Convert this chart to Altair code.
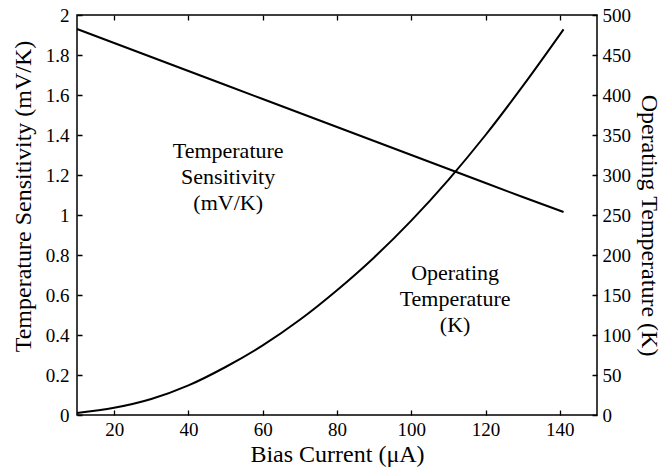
import altair as alt
import pandas as pd

# Data
bias = [10, 20, 30, 40, 50, 60, 70, 80, 90, 100, 110, 120, 130, 141]
sensitivity = [1.93, 1.86, 1.79, 1.72, 1.65, 1.58, 1.51, 1.44, 1.37, 1.30, 1.23, 1.16, 1.09, 1.015]
temperature = [2.5, 9, 20, 37, 60, 87, 119, 156, 197, 243, 294, 350, 411, 482]

x_ticks = [20, 40, 60, 80, 100, 120, 140]
left_ticks = [0, 0.2, 0.4, 0.6, 0.8, 1, 1.2, 1.4, 1.6, 1.8, 2]
right_ticks = [0, 50, 100, 150, 200, 250, 300, 350, 400, 450, 500]

ann_x = [50.7, 111.8]
ann_y = [1.32, 0.71]
ann_text = ["Temperature\nSensitivity\n(mV/K)", "Operating\nTemperature\n(K)"]

W, H = 520, 400
FONT = "Liberation Serif"
LBL = 19
TTL = 24

df = pd.DataFrame({"bias": bias, "sens": sensitivity, "temp": temperature})
ann = pd.DataFrame({"x": ann_x, "y": ann_y, "t": ann_text})

common = dict(
    labelFont=FONT, titleFont=FONT, labelFontSize=LBL, titleFontSize=TTL,
    labelColor="black", titleColor="black", titleFontWeight="normal",
    ticks=False, domain=False,
)

x_enc = alt.X(
    "bias:Q",
    scale=alt.Scale(domain=[10, 150], nice=False, zero=False),
    axis=alt.Axis(
        values=x_ticks, title="Bias Current (μA)", format="d",
        grid=True, gridColor="black", gridWidth=1.3, gridOpacity=1,
        gridDash=[5, H - 10, 5, 0],
        labelPadding=5, titlePadding=3, **common,
    ),
)

left_axis = alt.Axis(
    values=left_ticks, title="Temperature Sensitivity (mV/K)",
    grid=True, gridColor="black", gridWidth=1.3, gridOpacity=1,
    gridDash=[5, W - 10, 5, 0],
    labelPadding=8, titlePadding=10, titleY=181,
    labelExpr="format(datum.value, '.1~f')", **common,
)
left_scale = alt.Scale(domain=[0, 2], nice=False)

sens_line = alt.Chart(df).mark_line(color="black", strokeWidth=2).encode(
    x=x_enc,
    y=alt.Y("sens:Q", scale=left_scale, axis=left_axis),
)

texts = alt.Chart(ann).mark_text(
    font=FONT, fontSize=22, lineBreak="\n", lineHeight=26,
    align="center", baseline="middle", color="black",
).encode(
    x=alt.X("x:Q", scale=alt.Scale(domain=[10, 150], nice=False, zero=False)),
    y=alt.Y("y:Q", scale=left_scale, axis=left_axis),
    text="t:N",
)

temp_line = alt.Chart(df).mark_line(
    color="black", strokeWidth=2, interpolate="monotone"
).encode(
    x=x_enc,
    y=alt.Y(
        "temp:Q",
        scale=alt.Scale(domain=[0, 500], nice=False),
        axis=alt.Axis(
            values=right_ticks, orient="right", title="Operating Temperature (K)",
            grid=False, labelPadding=5, titlePadding=6, titleY=210, **common,
        ),
    ),
)

chart = alt.layer(alt.layer(sens_line, texts), temp_line).resolve_scale(
    y="independent"
).properties(
    width=W, height=H,
    background="white",
    autosize=alt.AutoSizeParams(type="none"),
    padding={"left": 77, "top": 15, "right": 70, "bottom": 58},
).configure_view(
    stroke="black", strokeWidth=1.5
)

chart.save("out.html", embed_options={"renderer": "svg", "actions": False})
